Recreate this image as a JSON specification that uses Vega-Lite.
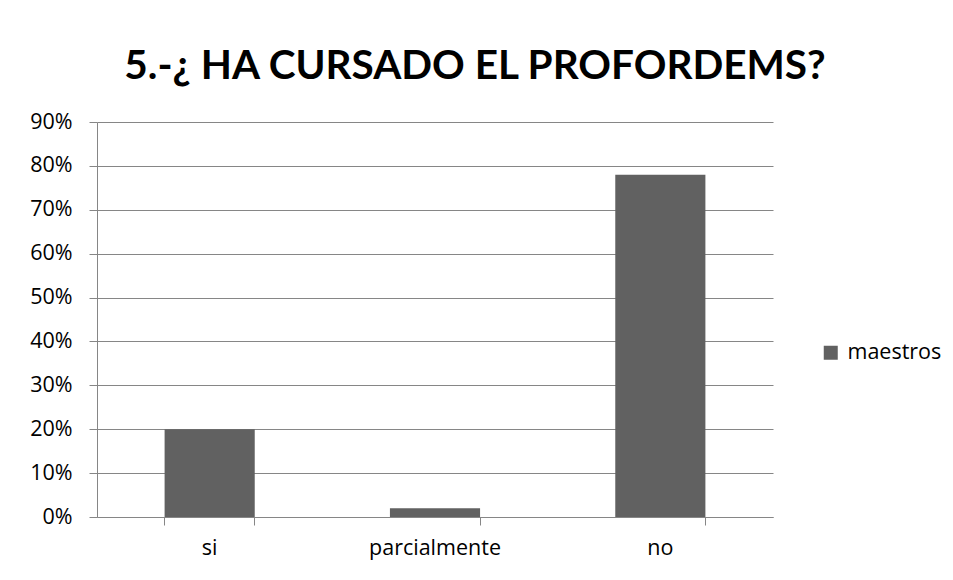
{
  "$schema": "https://vega.github.io/schema/vega-lite/v6.json",
  "width": 676,
  "height": 395,
  "autosize": {"type": "none"},
  "padding": {"left": 97, "top": 122, "right": 180, "bottom": 63},
  "background": "white",
  "title": {
    "text": "5.-¿ HA CURSADO EL PROFORDEMS?",
    "font": "Lato",
    "fontSize": 40.5,
    "fontWeight": "bold",
    "color": "#000000",
    "anchor": "middle",
    "dx": 40,
    "offset": 24
  },
  "data": {
    "values": [
      {"respuesta": "si", "porcentaje": 0.20, "serie": "maestros"},
      {"respuesta": "parcialmente", "porcentaje": 0.02, "serie": "maestros"},
      {"respuesta": "no", "porcentaje": 0.78, "serie": "maestros"}
    ]
  },
  "mark": {"type": "bar", "stroke": null},
  "encoding": {
    "x": {
      "field": "respuesta",
      "type": "nominal",
      "sort": null,
      "scale": {"paddingInner": 0.6, "paddingOuter": 0.3},
      "axis": {
        "title": null,
        "labelAngle": 0,
        "bandPosition": 1,
        "tickExtra": true,
        "tickSize": 8,
        "tickColor": "#868686",
        "domainColor": "#868686",
        "labelPadding": 12,
        "labelFont": "Open Sans",
        "labelFontSize": 21.5,
        "labelColor": "#000000",
        "grid": false
      }
    },
    "y": {
      "field": "porcentaje",
      "type": "quantitative",
      "scale": {"domain": [0, 0.9], "nice": false},
      "axis": {
        "title": null,
        "format": ".0%",
        "values": [0, 0.1, 0.2, 0.3, 0.4, 0.5, 0.6, 0.7, 0.8, 0.9],
        "tickSize": 8,
        "tickColor": "#868686",
        "domainColor": "#868686",
        "gridColor": "#868686",
        "gridOpacity": 1,
        "labelPadding": 17,
        "labelFont": "Open Sans",
        "labelFontSize": 21.5,
        "labelColor": "#000000"
      }
    },
    "color": {
      "field": "serie",
      "type": "nominal",
      "scale": {"range": ["#616161"]},
      "legend": {
        "title": null,
        "orient": "none",
        "legendX": 723,
        "legendY": 220,
        "symbolType": "square",
        "symbolSize": 196,
        "symbolStrokeWidth": 0,
        "labelFont": "Open Sans",
        "labelFontSize": 21.5,
        "labelColor": "#000000",
        "labelOffset": 6
      }
    }
  },
  "config": {
    "view": {"stroke": null},
    "axis": {"domainWidth": 1, "tickWidth": 1, "gridWidth": 1}
  }
}
